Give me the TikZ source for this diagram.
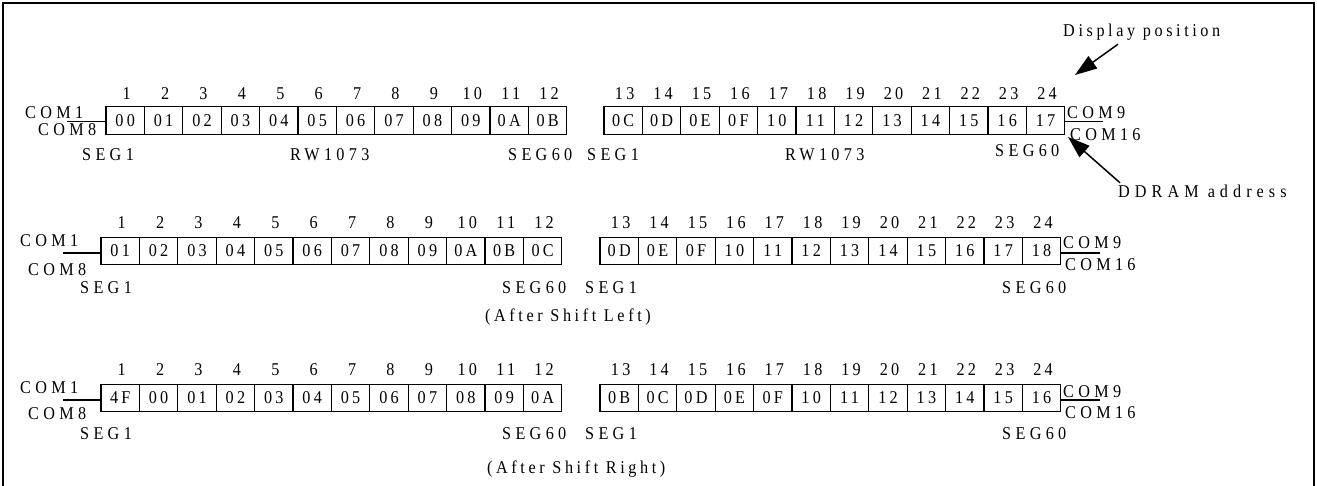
\documentclass[tikz,border=0pt]{standalone}
\usepackage{fontspec}
\setmainfont{Liberation Serif}
\newfontfamily\capsf[LetterSpace=24,FakeStretch=0.9]{Liberation Serif}
\newfontfamily\ddf[LetterSpace=28,FakeStretch=0.9]{Liberation Serif}
\newfontfamily\lowf[LetterSpace=20,FakeStretch=0.9]{Liberation Serif}
\newfontfamily\numf[LetterSpace=18,FakeStretch=0.9]{Liberation Serif}
\usetikzlibrary{arrows.meta}
\newcommand{\fsz}{\fontsize{18}{20}\selectfont}
\begin{document}
\begin{tikzpicture}[x=1pt,y=-1pt,
  cell/.style={draw,line width=1.2pt,minimum width=38.4pt,minimum height=27.5pt,inner sep=0pt,font=\numf\fsz},
  num/.style={inner sep=0pt,text height=12pt,text depth=0pt,font=\numf\fsz},
  lab/.style={anchor=west,inner sep=0pt,text height=12pt,text depth=0pt,font=\capsf\fsz},
  txt/.style={anchor=west,inner sep=0pt,text height=12pt,text depth=0pt,font=\lowf\fsz},
  ddtxt/.style={anchor=west,inner sep=0pt,text height=12pt,text depth=0pt,font=\ddf\fsz},
  comline/.style={line width=1.2pt},
  arr/.style={line width=1.5pt,-{Triangle[length=22pt,width=15pt]}},
  frame/.style={line width=2pt}]
\useasboundingbox (0,0) rectangle (1317,486);
\draw[frame] (3,486) -- (3,3) -- (1314,3) -- (1314,486);

% ---------- Row 1 ----------
\foreach \t [count=\i] in {00,01,02,03,04,05,06,07,08,09,0A,0B} {
  \node[cell] (a\i) at ({106+38.4*(\i-0.5)},120.5) {\t};
  \node[num] (na\i) at ({106+38.4*(\i-0.5)+1.5},93.5) {\i};
}
\foreach \t [count=\i] in {0C,0D,0E,0F,10,11,12,13,14,15,16,17} {
  \pgfmathtruncatemacro\k{\i+12}
  \node[cell] (b\i) at ({604+38.4*(\i-0.5)},120.5) {\t};
  \node[num] (nb\i) at ({604+38.4*(\i-0.5)+1.5},93.5) {\k};
}
\node[lab] (acom1) at (25,113) {COM1};
\node[lab] (acom8) at (38,130) {COM8};
\coordinate (al) at (67,121.5);
\draw[comline] ([yshift=-1pt]a1.west) -- (al);
\node[lab] (aseg1) at (82,155) {SEG1};
\node[lab] (arw) at (290,155) {RW1073};
\node[lab] (aseg60) at (508,155) {SEG60};
\node[lab] (bseg1) at (587,155) {SEG1};
\node[lab] (brw) at (785,155) {RW1073};
\node[lab] (bseg60) at (995,151) {SEG60};
\node[lab] (bcom9) at (1067,113) {COM9};
\node[lab] (bcom16) at (1070,135) {COM16};
\coordinate (bl) at (1103,121.5);
\draw[comline] ([yshift=-1pt]b12.east) -- (bl);
\node[txt] (dp) at (1063,31) {Display position};
\coordinate (dptip) at (1075,75);
\draw[arr] ([shift={(55,7)}]dp.south west) -- (dptip);
\node[ddtxt] (dd) at (1118,192) {DDRAM address};
\coordinate (ddtip) at (1068,137);
\draw[arr] ([shift={(2,-3)}]dd.north west) -- (ddtip);

% ---------- Row 2 ----------
\foreach \t [count=\i] in {01,02,03,04,05,06,07,08,09,0A,0B,0C} {
  \node[cell] (c\i) at ({101+38.4*(\i-0.5)},251) {\t};
  \node[num] (nc\i) at ({101+38.4*(\i-0.5)+1.5},222.5) {\i};
}
\foreach \t [count=\i] in {0D,0E,0F,10,11,12,13,14,15,16,17,18} {
  \pgfmathtruncatemacro\k{\i+12}
  \node[cell] (d\i) at ({600+38.4*(\i-0.5)},251) {\t};
  \node[num] (nd\i) at ({600+38.4*(\i-0.5)+1.5},222.5) {\k};
}
\node[lab] (ccom1) at (20,241) {COM1};
\node[lab] (ccom8) at (28,270) {COM8};
\coordinate (cl) at (63,253);
\draw[comline] ([yshift=-2pt]c1.west) -- (cl);
\node[lab] (cseg1) at (80,288) {SEG1};
\node[lab] (cseg60) at (502,288) {SEG60};
\node[lab] (dseg1) at (585,288) {SEG1};
\node[txt] (cafter) at (485,316) {(After Shift Left)};
\node[lab] (dcom9) at (1063,243) {COM9};
\node[lab] (dcom16) at (1065,265) {COM16};
\coordinate (dl) at (1100,253);
\draw[comline] ([yshift=-2pt]d12.east) -- (dl);
\node[lab] (dseg60) at (1002,288) {SEG60};

% ---------- Row 3 ----------
\foreach \t [count=\i] in {4F,00,01,02,03,04,05,06,07,08,09,0A} {
  \node[cell] (e\i) at ({101+38.4*(\i-0.5)},398) {\t};
  \node[num] (ne\i) at ({101+38.4*(\i-0.5)+1.5},369.5) {\i};
}
\foreach \t [count=\i] in {0B,0C,0D,0E,0F,10,11,12,13,14,15,16} {
  \pgfmathtruncatemacro\k{\i+12}
  \node[cell] (f\i) at ({600+38.4*(\i-0.5)},398) {\t};
  \node[num] (nf\i) at ({600+38.4*(\i-0.5)+1.5},369.5) {\k};
}
\node[lab] (ecom1) at (20,387) {COM1};
\node[lab] (ecom8) at (28,413) {COM8};
\coordinate (el) at (63,400);
\draw[comline] ([yshift=-2pt]e1.west) -- (el);
\node[lab] (eseg1) at (80,433) {SEG1};
\node[lab] (eseg60) at (502,433) {SEG60};
\node[lab] (fseg1) at (585,433) {SEG1};
\node[txt] (eafter) at (487,467) {(After Shift Right)};
\node[lab] (fcom9) at (1063,391) {COM9};
\node[lab] (fcom16) at (1065,412) {COM16};
\coordinate (fl) at (1100,400);
\draw[comline] ([yshift=-2pt]f12.east) -- (fl);
\node[lab] (fseg60) at (1002,433) {SEG60};
\end{tikzpicture}
\end{document}
